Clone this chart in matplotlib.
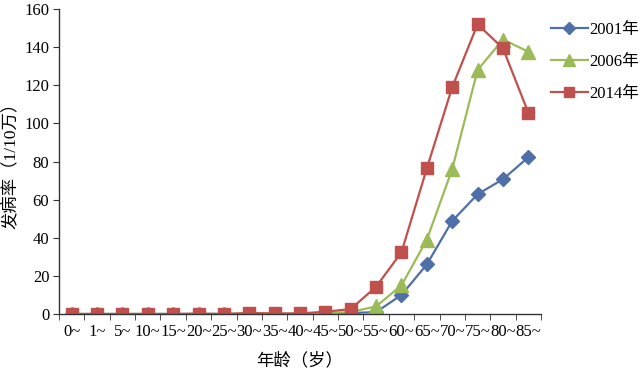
import matplotlib
matplotlib.use("Agg")
import matplotlib.pyplot as plt

plt.rcParams['font.family'] = ['Liberation Serif', 'Noto Sans CJK SC']

categories = ["0~", "1~", "5~", "10~", "15~", "20~", "25~", "30~", "35~", "40~",
              "45~", "50~", "55~", "60~", "65~", "70~", "75~", "80~", "85~"]
rate_2001 = [0, 0, 0, 0, 0, 0, 0, 0, 0, 0, 0.2, 0.5, 1.0, 10.0, 26.0, 48.8, 62.8, 70.7, 82.2]
rate_2006 = [0, 0, 0, 0, 0, 0, 0, 0.2, 0, 0, 0.5, 1.0, 4.0, 15.0, 39.0, 76.0, 128.0, 144.0, 137.6]
rate_2014 = [0, 0, 0, 0, 0, 0.2, 0, 0.5, 0.3, 0.3, 1.2, 2.6, 14.3, 32.4, 76.4, 119.0, 152.0, 139.4, 105.6]
series_labels = ["2001年", "2006年", "2014年"]
yticks = [0, 20, 40, 60, 80, 100, 120, 140, 160]

fig = plt.figure(figsize=(6.4, 3.72), dpi=100)
ax = fig.add_axes([59/640, 1-314/372, (541-59)/640, (314-9)/372])

x = list(range(len(categories)))
ax.plot(x, rate_2001, color='#4F6FA8', marker='D', markersize=7, linewidth=1.6, label=series_labels[0])
ax.plot(x, rate_2006, color='#9BBB59', marker='^', markersize=9.5, linewidth=1.6, label=series_labels[1])
ax.plot(x, rate_2014, color='#C0504D', marker='s', markersize=8.5, linewidth=1.6, label=series_labels[2])

ax.set_xlim(-0.5, len(categories) - 0.5)
ax.set_ylim(0, 160)
ax.set_yticks(yticks)
ax.set_yticklabels([str(v) for v in yticks], fontsize=12)
ax.set_xticks(x)
ax.set_xticklabels(categories, fontsize=12)
ax.tick_params(axis='x', which='major', length=0, pad=7)
ax.set_xticks([i - 0.5 for i in range(len(categories) + 1)], minor=True)
ax.tick_params(axis='x', which='minor', length=4, direction='out', color='#333333')
ax.tick_params(axis='y', length=4, direction='out', color='#333333', pad=3)

for s in ['top', 'right']:
    ax.spines[s].set_visible(False)
for s in ['left', 'bottom']:
    ax.spines[s].set_color('#333333')
    ax.spines[s].set_linewidth(1.0)

ax.set_ylabel("发病率（1/10万）", fontsize=12.5, labelpad=3)
ax.set_xlabel("年龄（岁）", fontsize=12.5, labelpad=9)

leg = fig.legend(loc='upper left', bbox_to_anchor=(551/640, 1-22/372), frameon=False,
                 fontsize=12, handlelength=2.2, labelspacing=0.95, handletextpad=0.1,
                 borderpad=0, borderaxespad=0, markerscale=0.85)

fig.savefig("out.png", dpi=100)
